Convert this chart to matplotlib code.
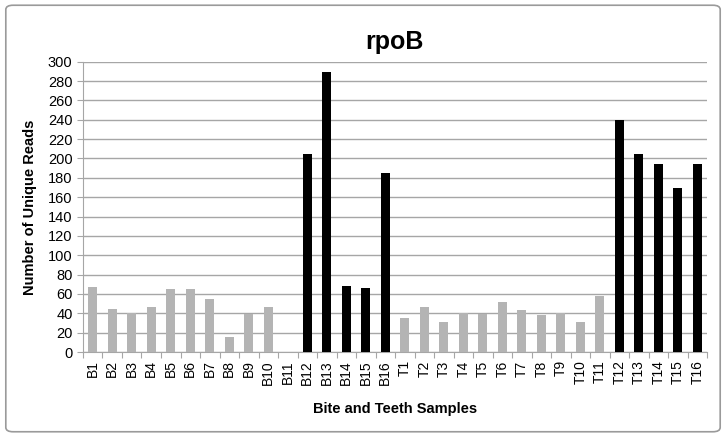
import matplotlib

matplotlib.use("Agg")

import matplotlib.pyplot as plt
import numpy as np
from matplotlib.patches import FancyBboxPatch

plt.rcParams["font.family"] = ["Liberation Sans", "DejaVu Sans"]

samples = [f"B{i}" for i in range(1, 17)] + [f"T{i}" for i in range(1, 17)]
bite_reads = [67, 44, 40, 47, 65, 65, 55, 16, 39, 46, 0, 205, 289, 68, 66, 185]
teeth_reads = [35, 47, 31, 40, 39, 52, 43, 38, 40, 31, 58, 240, 205, 194, 170, 194]
highlight = {"B12", "B13", "B14", "B15", "B16", "T12", "T13", "T14", "T15", "T16"}

GRAY = "#b4b4b4"
BLACK = "#000000"
GRID = "#a6a6a6"

reads = bite_reads + teeth_reads
colors = [BLACK if s in highlight else GRAY for s in samples]
x = np.arange(len(samples))

fig = plt.figure(figsize=(7.26, 4.37), dpi=100)
ax = fig.add_axes([0.1143, 0.1945, 0.8597, 0.6643])

ax.bar(x, reads, width=0.45, color=colors, zorder=3)

ax.set_ylim(0, 300)
ax.set_yticks(np.arange(0, 301, 20))
ax.set_xlim(-0.5, len(samples) - 0.5)
ax.set_xticks(x)
ax.set_xticklabels(samples, rotation=90, fontsize=10)
ax.set_xticks(np.arange(-0.5, len(samples), 1.0), minor=True)
ax.tick_params(axis="x", which="major", length=0, pad=6)
ax.tick_params(axis="x", which="minor", length=4, color=GRID, width=0.8)
ax.tick_params(axis="y", length=4, color=GRID, width=0.8, labelsize=10.5)

ax.grid(axis="y", color=GRID, linewidth=1.0, zorder=0)
for side in ["top", "right"]:
    ax.spines[side].set_visible(False)
ax.spines["left"].set_color(GRID)
ax.spines["bottom"].set_color(GRID)

ax.set_ylabel("Number of Unique Reads", fontsize=10.5, fontweight="bold", labelpad=8)
ax.set_xlabel("Bite and Teeth Samples", fontsize=10.5, fontweight="bold", labelpad=12)
fig.text(0.543, 0.905, "rpoB", ha="center", va="center", fontsize=18, fontweight="bold")

frame = FancyBboxPatch((0.008, 0.012), 0.984, 0.976, boxstyle="round,pad=0,rounding_size=0.01",
                       transform=fig.transFigure, fill=False, edgecolor="#9a9a9a", linewidth=1.2)
fig.patches.append(frame)

fig.savefig("out.png", dpi=100)
